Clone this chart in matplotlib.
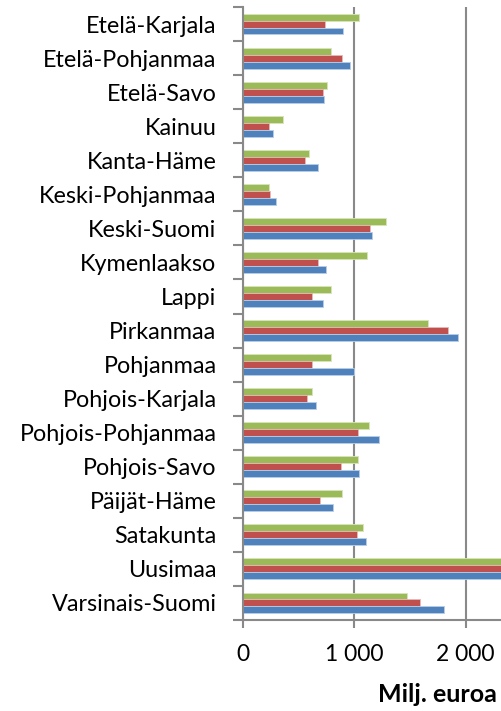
import numpy as np
import matplotlib.pyplot as plt
from matplotlib.ticker import FuncFormatter

plt.rcParams['font.family'] = ['Lato', 'DejaVu Sans']

# Maakunnat (ylhäältä alas)
maakunnat = ['Etelä-Karjala', 'Etelä-Pohjanmaa', 'Etelä-Savo', 'Kainuu',
             'Kanta-Häme', 'Keski-Pohjanmaa', 'Keski-Suomi', 'Kymenlaakso',
             'Lappi', 'Pirkanmaa', 'Pohjanmaa', 'Pohjois-Karjala',
             'Pohjois-Pohjanmaa', 'Pohjois-Savo', 'Päijät-Häme', 'Satakunta',
             'Uusimaa', 'Varsinais-Suomi']

# Milj. euroa, luettu kuvasta
sarja_sininen = [894, 962, 729, 267, 672, 294, 1155, 744, 720, 1935,
                 999, 657, 1218, 1041, 807, 1107, 3000, 1809]
sarja_punainen = [738, 890, 717, 231, 561, 240, 1140, 675, 618, 1845,
                  624, 573, 1035, 876, 693, 1020, 2900, 1587]
sarja_vihrea = [1044, 795, 756, 360, 591, 234, 1287, 1113, 795, 1665,
                795, 618, 1128, 1029, 891, 1080, 3100, 1476]

xtikit = [0, 1000, 2000]

SININEN = '#4F81BD'
PUNAINEN = '#C0504D'
VIHREA = '#9BBB59'
HARMAA = '#898989'

fig = plt.figure(figsize=(5.01, 7.11), dpi=100)
ax = fig.add_axes([243 / 501, 1 - 620 / 711, 1 - 243 / 501, (620 - 7) / 711])

y = np.arange(len(maakunnat))
h = 0.205
ax.barh(y - h, sarja_vihrea, height=h, color=VIHREA, edgecolor='#d7e4bd', linewidth=0.6)
ax.barh(y, sarja_punainen, height=h, color=PUNAINEN, edgecolor='#e6b9b8', linewidth=0.6)
ax.barh(y + h, sarja_sininen, height=h, color=SININEN, edgecolor='#b9cde5', linewidth=0.6)

ax.set_xlim(0, 2318)
ax.set_ylim(len(maakunnat) - 0.5, -0.5)

ax.set_xticks(xtikit)
ax.xaxis.set_major_formatter(FuncFormatter(lambda v, p: f'{int(v):,}'.replace(',', ' ')))
ax.set_yticks(y)
ax.set_yticklabels(maakunnat)
ax.set_yticks(np.arange(-0.5, len(maakunnat)), minor=True)

ax.tick_params(axis='y', which='major', length=0, pad=19, labelsize=16.8)
ax.tick_params(axis='y', which='minor', length=7, width=1.5, color=HARMAA)
ax.tick_params(axis='x', length=6, width=1.5, color=HARMAA, labelsize=16.5, pad=11)

ax.grid(axis='x', color=HARMAA, linewidth=1.5)
ax.set_axisbelow(True)
for s in ['top', 'right']:
    ax.spines[s].set_visible(False)
for s in ['left', 'bottom']:
    ax.spines[s].set_color(HARMAA)
    ax.spines[s].set_linewidth(1.5)

fig.text(497 / 501, 1 - 694 / 711, 'Milj. euroa', ha='right', va='center',
         fontsize=18, fontweight='bold')

fig.savefig('out.png', dpi=100)
